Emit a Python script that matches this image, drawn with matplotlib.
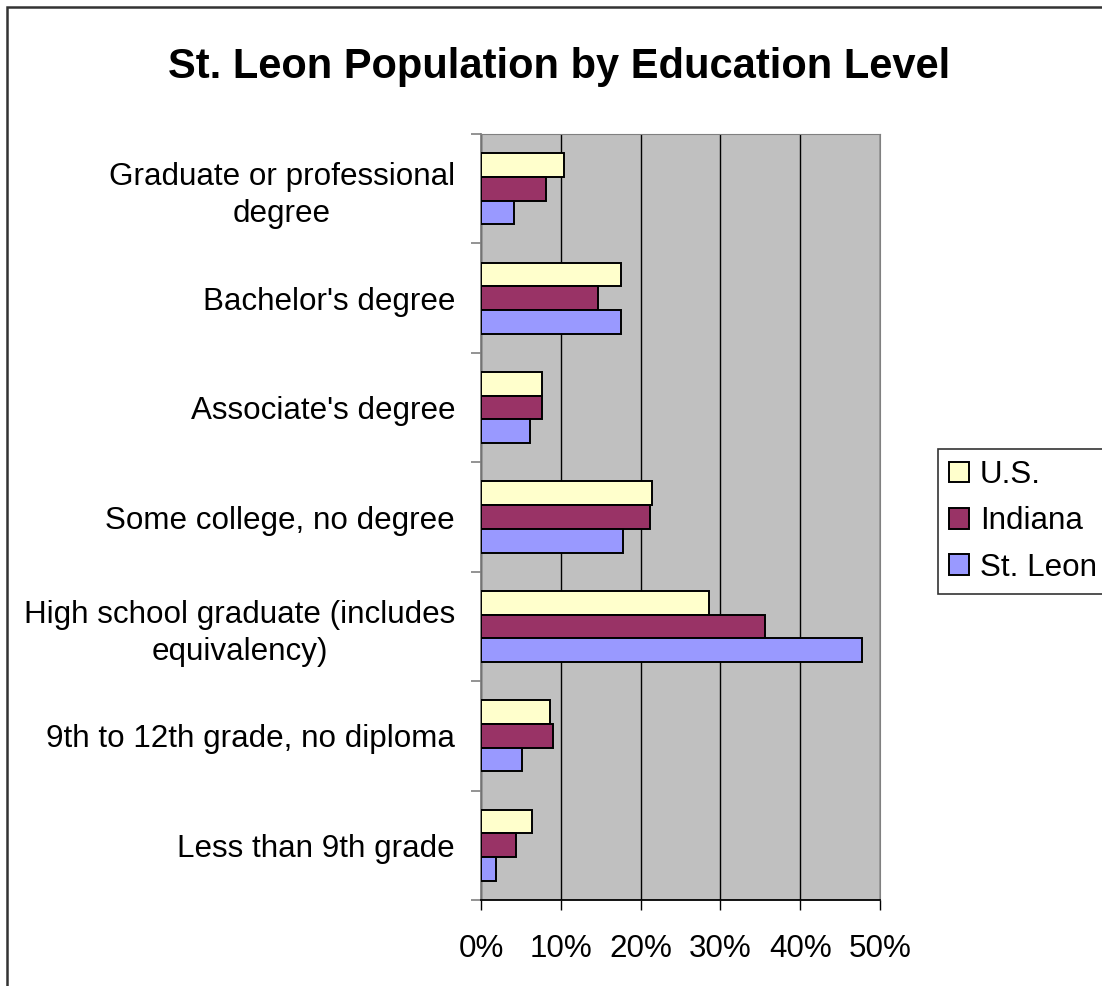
import numpy as np
import matplotlib
matplotlib.use('Agg')
import matplotlib.pyplot as plt
from matplotlib.patches import Rectangle
from matplotlib.ticker import FixedLocator, PercentFormatter

plt.rcParams['font.family'] = ['Liberation Sans', 'DejaVu Sans']

# data, bottom category first
categories = [
    'Less than 9th grade',
    '9th to 12th grade, no diploma',
    'High school graduate (includes\nequivalency)',
    'Some college, no degree',
    "Associate's degree",
    "Bachelor's degree",
    'Graduate or professional\ndegree',
]
us = [6.4, 8.6, 28.6, 21.4, 7.6, 17.6, 10.4]
indiana = [4.4, 9.0, 35.6, 21.2, 7.6, 14.6, 8.1]
st_leon = [1.9, 5.2, 47.7, 17.8, 6.1, 17.6, 4.1]
series_names = ['U.S.', 'Indiana', 'St. Leon']
colors = ['#FFFFCC', '#993366', '#9999FF']

W, H = 1102, 986
fig = plt.figure(figsize=(W / 100, H / 100), dpi=100)
ax = fig.add_axes([481 / W, 1 - 900 / H, (880 - 481) / W, (900 - 134) / H])
ax.set_facecolor('#C0C0C0')

y = np.arange(len(categories))
h = 0.217
for vals, off, c, name in zip([us, indiana, st_leon], [h, 0, -h], colors, series_names):
    ax.barh(y + off, vals, height=h, color=c, edgecolor='black', linewidth=1.4,
            label=name, zorder=3)

ax.set_xlim(0, 50)
ax.set_ylim(-0.5, len(categories) - 0.5)
ax.xaxis.set_major_locator(FixedLocator([0, 10, 20, 30, 40, 50]))
ax.xaxis.set_major_formatter(PercentFormatter(decimals=0))
ax.grid(axis='x', color='black', linewidth=1.0, zorder=1)

# category boundary ticks and centred labels
ax.yaxis.set_major_locator(FixedLocator(np.arange(len(categories) + 1) - 0.5))
ax.yaxis.set_major_formatter(plt.NullFormatter())
ax.set_yticks(y, minor=True)
ax.set_yticklabels(categories, minor=True, fontsize=22.6, ha='right',
                   multialignment='center', linespacing=1.3)
ax.tick_params(axis='y', which='major', length=7.2, width=1.2, color='#808080')
ax.tick_params(axis='y', which='minor', length=0, pad=18.7)
ax.tick_params(axis='x', length=7.2, width=1.0, color='black', pad=17.5,
               labelsize=22.6)

ax.spines['left'].set_color('#808080')
ax.spines['left'].set_linewidth(1.3)
ax.spines['bottom'].set_color('black')
ax.spines['bottom'].set_linewidth(1.3)
ax.spines['top'].set_color('#808080')
ax.spines['right'].set_color('#808080')

fig.text(559 / W, 1 - 67 / H, 'St. Leon Population by Education Level',
         ha='center', va='center', fontsize=30, fontweight='bold')

leg = fig.legend(loc='upper left', bbox_to_anchor=(937.7 / W, 1 - 449 / H),
                 fontsize=22.6, frameon=True, fancybox=False,
                 edgecolor='black', handlelength=0.64, handleheight=0.64,
                 handletextpad=0.35, labelspacing=0.52, borderpad=0.35,
                 borderaxespad=0)
leg.get_frame().set_linewidth(1.2)

# outer chart border
fig.patches.append(Rectangle((7 / W, -0.1), 1.2, 1 - 7 / H + 0.1,
                             transform=fig.transFigure, fill=False,
                             edgecolor='#333333', linewidth=1.8))

fig.savefig('out.png', dpi=100)
